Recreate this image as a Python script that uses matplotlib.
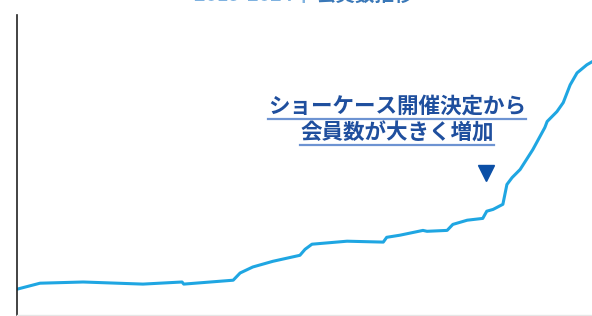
import matplotlib
matplotlib.use("Agg")
import matplotlib.pyplot as plt
from matplotlib.lines import Line2D

plt.rcParams['font.family'] = ['Noto Sans CJK JP', 'DejaVu Sans']

# member count trend (index: months)
months = [0, 4, 11.5, 21.9, 28.7, 29.0, 37.6, 38.8, 41, 44.5, 49.2, 50.1, 51.3,
          57.4, 63.7, 64.3, 66.6, 70.6, 71.3, 74.8, 75.8, 78.3, 81.0, 81.7,
          82.8, 84.5, 85.2, 86.1, 87.5, 89.7, 91.8, 92.2, 93.9, 95.0, 96.2,
          97.4, 99.1, 100]
members = [86, 106, 110, 103, 110, 103, 116, 140, 160, 179, 199, 219, 236,
           246, 243, 259, 266, 282, 279, 282, 302, 316, 322, 346,
           352, 369, 435, 458, 485, 551, 625, 645, 678, 708, 767,
           807, 834, 844]

title_light = "2019-2024年 "
title_dark = "会員数推移"
note_lines = ["ショーケース開催決定から", "会員数が大きく増加"]
event_month = 81.5

W, H = 592, 316
fig = plt.figure(figsize=(W / 100, H / 100), dpi=100)
ax = fig.add_axes([17 / W, 1 / H, 1 - 17 / W, 1 - 16 / H])

ax.plot(months, members, color="#1fa6e2", lw=2.2, solid_joinstyle="round")
ax.set_xlim(0, 100)
ax.set_ylim(0, 1000)
ax.set_xticks([])
ax.set_yticks([])
for s in ["top", "right"]:
    ax.spines[s].set_visible(False)
ax.spines["left"].set_color("#222222")
ax.spines["left"].set_linewidth(1.2)
ax.spines["bottom"].set_color("#e6e6e6")
ax.spines["bottom"].set_linewidth(1.0)

# title, mostly cut off at the top edge
t1 = fig.text(317 / W, 1 + 4.5 / H, title_light, ha="right", va="center",
              fontsize=14, fontweight="bold", color="#7fb2e0")
t2 = fig.text(317 / W, 1 + 4.5 / H, title_dark, ha="left", va="center",
              fontsize=14, fontweight="bold", color="#3a78b8")

# annotation with underline
note_color = "#1f4f9e"
texts = []
for i, line in enumerate(note_lines):
    yc = 1 - (106 + i * 27) / H
    texts.append(fig.text(397 / W, yc, line, ha="center", va="center",
                          fontsize=15.5, fontweight="bold", color=note_color))

fig.canvas.draw()
r = fig.canvas.get_renderer()
for i, t in enumerate(texts):
    bb = t.get_window_extent(renderer=r)
    yu = (H - (118.5 + i * 26.5)) / H
    fig.add_artist(Line2D([bb.x0 / W, bb.x1 / W], [yu, yu], transform=fig.transFigure,
                          color="#6d93d2", lw=1.6))

ax.plot([event_month], [472], marker="v", color="#0b4fa6", markersize=11,
        linestyle="none", clip_on=False)

fig.savefig("out.png", dpi=100)
